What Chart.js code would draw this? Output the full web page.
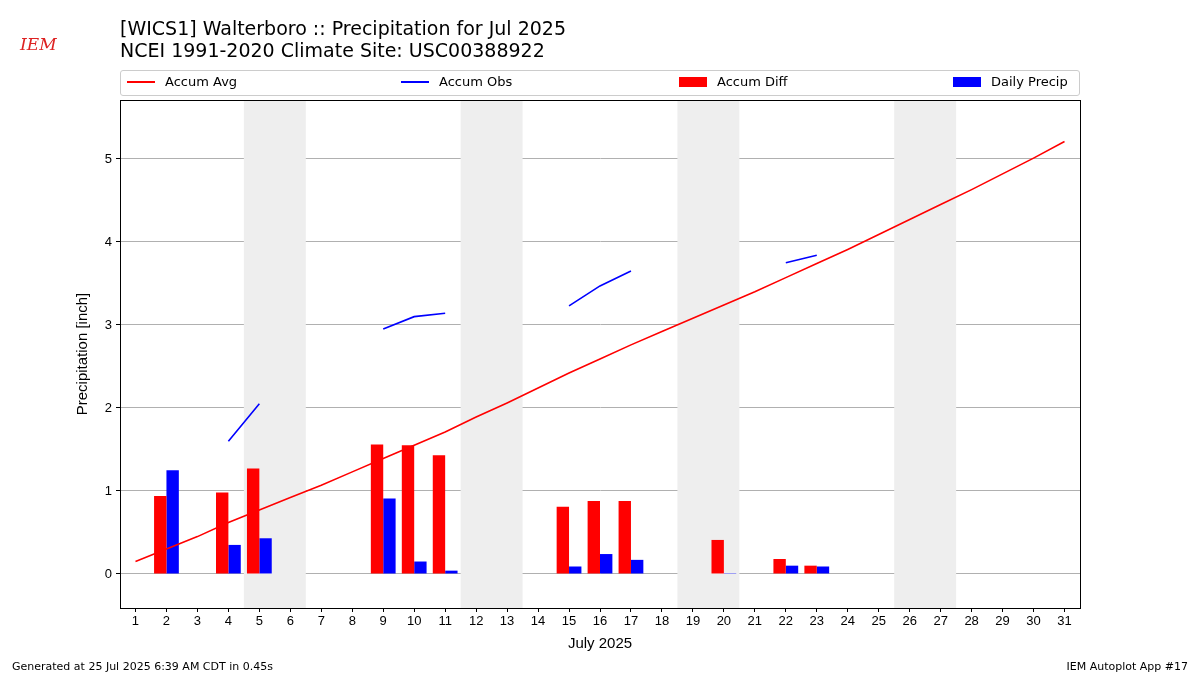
<!DOCTYPE html>
<html lang="en">
<head>
  <meta charset="UTF-8" />
  <title>Walterboro Precipitation</title>
  <script src="https://cdn.jsdelivr.net/npm/chart.js"></script>
  <style>
    body { margin: 0; width: 1200px; height: 675px; position: relative; font-family: "DejaVu Sans", sans-serif; background: #fff; overflow: hidden; }
    #wrap { position: absolute; left: 0; top: 0; width: 1200px; height: 675px; }
    .title { position: absolute; left: 120px; top: 17px; font-size: 19px; line-height: 22px; color: #000; }
    #legend { position: absolute; left: 120px; top: 70px; width: 958px; height: 24px; border: 1px solid #ccc; border-radius: 3px; font-size: 13px; }
    .item { position: absolute; top: 3px; display: flex; align-items: center; }
    .line { width: 28px; height: 2px; margin-right: 10px; }
    .box { width: 28px; height: 10px; margin-right: 10px; }
    .foot { position: absolute; top: 660px; font-size: 11px; }
    .logo { position: absolute; left: 20px; top: 34px; font-family: "DejaVu Serif", serif; font-style: italic; color: #d22; font-size: 17px; }
  </style>
</head>
<body>
  <div id="wrap"><canvas id="precipChart" width="1200" height="675"></canvas></div>
  <div class="logo">IEM</div>
  <div class="title">[WICS1] Walterboro :: Precipitation for Jul 2025<br>NCEI 1991-2020 Climate Site: USC00388922</div>
  <div id="legend">
    <div class="item" style="left:6px"><div class="line" style="background:red"></div>Accum Avg</div>
    <div class="item" style="left:280px"><div class="line" style="background:blue"></div>Accum Obs</div>
    <div class="item" style="left:558px"><div class="box" style="background:red"></div>Accum Diff</div>
    <div class="item" style="left:832px"><div class="box" style="background:blue"></div>Daily Precip</div>
  </div>
  <div class="foot" style="left:12px">Generated at 25 Jul 2025 6:39 AM CDT in 0.45s</div>
  <div class="foot" style="right:12px">IEM Autoplot App #17</div>

  <script>
    const days = Array.from({length: 31}, (_, i) => String(i + 1));
    const accumAvg = [0.15, 0.30, 0.45, 0.62, 0.77, 0.92, 1.07, 1.23, 1.39, 1.55, 1.71, 1.89, 2.06, 2.24, 2.42, 2.59,
      2.76, 2.92, 3.08, 3.24, 3.40, 3.57, 3.74, 3.91, 4.09, 4.27, 4.45, 4.63, 4.82, 5.01, 5.21];
    const accumObs = [null, 1.25, null, 1.60, 2.05, null, null, null, 2.95, 3.10, 3.14, null, null, null, 3.23, 3.47,
      3.65, null, null, 3.66, null, 3.75, 3.84, null, null, null, null, null, null, null, null];
    const accumDiff = [null, 0.94, null, 0.98, 1.27, null, null, null, 1.56, 1.55, 1.43, null, null, null, 0.81, 0.88,
      0.88, null, null, 0.41, null, 0.18, 0.10, null, null, null, null, null, null, null, null];
    const dailyPrecip = [null, 1.25, null, 0.35, 0.43, null, null, null, 0.91, 0.15, 0.04, null, null, null, 0.09, 0.24,
      0.17, null, null, 0.01, null, 0.10, 0.09, null, null, null, null, null, null, null, null];
    const weekends = [[5, 6], [12, 13], [19, 20], [26, 27]];

    const shading = {
      id: 'shading',
      beforeDatasetsDraw(chart) {
        const { ctx, chartArea, scales } = chart;
        const step = scales.x.getPixelForValue(1) - scales.x.getPixelForValue(0);
        ctx.save();
        ctx.fillStyle = '#eeeeee';
        weekends.forEach(([a, b]) => {
          const x0 = scales.x.getPixelForValue(a - 1) - step / 2;
          const x1 = scales.x.getPixelForValue(b - 1) + step / 2;
          ctx.fillRect(x0, chartArea.top, x1 - x0, chartArea.bottom - chartArea.top);
        });
        ctx.restore();
      },
      afterDraw(chart) {
        const { ctx, chartArea: a } = chart;
        ctx.save();
        ctx.strokeStyle = '#000';
        ctx.lineWidth = 1;
        ctx.strokeRect(a.left + 0.5, a.top + 0.5, a.right - a.left, a.bottom - a.top);
        ctx.restore();
      }
    };

    new Chart(document.getElementById('precipChart'), {
      type: 'bar',
      data: {
        labels: days,
        datasets: [
          { type: 'line', label: 'Accum Avg', data: accumAvg, borderColor: 'red', borderWidth: 1.6, pointRadius: 0, tension: 0 },
          { type: 'line', label: 'Accum Obs', data: accumObs, borderColor: 'blue', borderWidth: 1.6, pointRadius: 0, spanGaps: false },
          { label: 'Accum Diff', data: accumDiff, backgroundColor: 'red', categoryPercentage: 0.8, barPercentage: 1 },
          { label: 'Daily Precip', data: dailyPrecip, backgroundColor: 'blue', categoryPercentage: 0.8, barPercentage: 1 }
        ]
      },
      options: {
        responsive: false,
        animation: false,
        layout: { padding: { left: 70, right: 120, top: 100, bottom: 18 } },
        plugins: { legend: { display: false }, tooltip: { enabled: false } },
        scales: {
          x: {
            offset: true,
            grid: { drawOnChartArea: false, offset: false, color: '#000', tickLength: 4 },
            border: { color: '#000' },
            ticks: { color: '#000', font: { size: 13 }, maxRotation: 0, autoSkip: false, padding: 2 },
            title: { display: true, text: 'July 2025', color: '#000', font: { size: 15 }, padding: { top: 4 } },
            afterFit: s => { s.height = 49; }
          },
          y: {
            min: -0.41, max: 5.71,
            afterBuildTicks: s => { s.ticks = [0, 1, 2, 3, 4, 5].map(v => ({ value: v })); },
            grid: { color: '#b0b0b0', tickColor: '#000', tickLength: 4 },
            border: { color: '#000' },
            ticks: { color: '#000', font: { size: 13 }, padding: 4 },
            title: { display: true, text: 'Precipitation [inch]', color: '#000', font: { size: 15 } },
            afterFit: s => { s.width = 50; }
          }
        }
      },
      plugins: [shading]
    });
  </script>
</body>
</html>
